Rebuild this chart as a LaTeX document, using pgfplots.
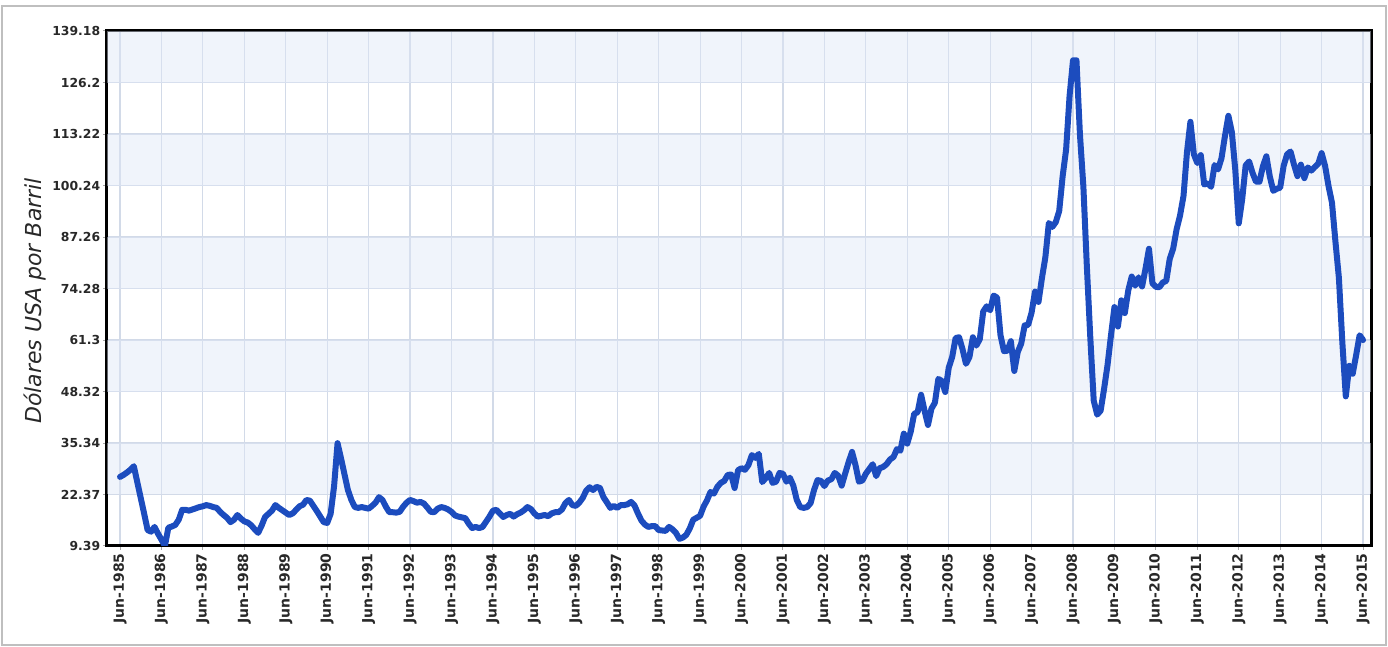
\documentclass[border=0pt]{standalone}
\usepackage{pgfplots}
\pgfplotsset{compat=1.18}
\usepackage{pgfplotstable}
\usepackage{fontspec}
\setmainfont{DejaVu Sans}
\definecolor{lineblue}{RGB}{28,76,190}
\definecolor{band}{RGB}{222,230,246}
\definecolor{gridc}{RGB}{210,218,232}
\definecolor{txt}{RGB}{40,40,40}

% Monthly crude oil price, Jun-1985 (index 0) to Jun-2015 (index 360)
\pgfplotstableread{
m p
0 26.8
1 27.3
2 27.9
3 28.6
4 29.5
5 25.5
6 21.5
7 17.5
8 13.4
9 13.0
10 14.2
11 12.5
12 11.0
13 9.39
14 14.0
15 14.3
16 14.7
17 16.0
18 18.5
19 18.5
20 18.3
21 18.6
22 18.9
23 19.2
24 19.4
25 19.7
26 19.5
27 19.2
28 19.0
29 18.0
30 17.2
31 16.5
32 15.4
33 16.0
34 17.2
35 16.3
36 15.6
37 15.3
38 14.6
39 13.6
40 12.7
41 14.5
42 16.7
43 17.5
44 18.3
45 19.7
46 19.0
47 18.4
48 17.8
49 17.2
50 17.6
51 18.5
52 19.4
53 19.8
54 21.0
55 20.8
56 19.5
57 18.2
58 16.8
59 15.4
60 15.2
61 17.5
62 24.5
63 35.3
64 31.5
65 27.5
66 23.5
67 21.0
68 19.2
69 19.0
70 19.2
71 19.0
72 18.8
73 19.5
74 20.3
75 21.7
76 21.0
77 19.3
78 17.9
79 17.9
80 17.8
81 18.0
82 19.3
83 20.3
84 21.0
85 20.7
86 20.3
87 20.5
88 20.1
89 19.1
90 18.0
91 17.9
92 18.8
93 19.2
94 19.0
95 18.6
96 18.0
97 17.1
98 16.8
99 16.6
100 16.4
101 15.0
102 13.9
103 14.2
104 13.9
105 14.2
106 15.5
107 16.8
108 18.3
109 18.5
110 17.6
111 16.7
112 17.2
113 17.5
114 16.8
115 17.4
116 17.8
117 18.4
118 19.2
119 18.7
120 17.6
121 16.8
122 17.0
123 17.2
124 16.9
125 17.6
126 17.9
127 17.9
128 18.6
129 20.2
130 21.0
131 19.7
132 19.5
133 20.3
134 21.5
135 23.3
136 24.2
137 23.5
138 24.3
139 24.0
140 21.7
141 20.4
142 19.0
143 19.5
144 19.0
145 19.7
146 19.7
147 19.9
148 20.5
149 19.6
150 17.6
151 15.8
152 14.8
153 14.2
154 14.4
155 14.4
156 13.4
157 13.3
158 13.2
159 14.2
160 13.6
161 12.7
162 11.2
163 11.5
164 12.2
165 13.8
166 16.0
167 16.5
168 17.0
169 19.3
170 20.9
171 23.0
172 22.6
173 24.3
174 25.3
175 25.8
176 27.3
177 27.4
178 24.0
179 28.5
180 29.0
181 28.6
182 29.8
183 32.3
184 31.6
185 32.6
186 25.5
187 26.5
188 27.8
189 25.3
190 25.6
191 27.8
192 27.6
193 25.6
194 26.6
195 24.6
196 21.0
197 19.2
198 19.0
199 19.2
200 20.2
201 23.5
202 26.0
203 25.8
204 24.5
205 25.9
206 26.2
207 27.8
208 27.1
209 24.6
210 27.6
211 30.5
212 33.1
213 29.8
214 25.6
215 25.9
216 27.6
217 28.8
218 30.0
219 27.0
220 29.0
221 29.3
222 30.0
223 31.2
224 31.8
225 33.8
226 33.4
227 37.7
228 35.2
229 38.2
230 42.7
231 43.1
232 47.5
233 43.5
234 39.9
235 44.0
236 45.5
237 51.5
238 51.0
239 48.2
240 54.3
241 57.0
242 61.8
243 62.0
244 59.0
245 55.3
246 57.0
247 62.0
248 59.9
249 61.5
250 68.5
251 69.8
252 68.8
253 72.5
254 72.0
255 62.5
256 58.5
257 58.6
258 61.0
259 53.5
260 58.3
261 60.4
262 65.0
263 65.1
264 68.2
265 73.5
266 70.9
267 76.9
268 82.2
269 90.8
270 89.8
271 91.0
272 93.8
273 102.6
274 109.3
275 122.8
276 131.8
277 131.8
278 113.2
279 100.0
280 80.0
281 62.0
282 46.0
283 42.5
284 43.5
285 49.0
286 55.0
287 62.5
288 69.6
289 64.7
290 71.3
291 68.1
292 73.8
293 77.3
294 75.0
295 77.1
296 74.8
297 79.3
298 84.3
299 75.6
300 74.7
301 74.6
302 75.8
303 76.2
304 81.7
305 84.3
306 89.2
307 92.7
308 97.6
309 108.6
310 116.3
311 108.1
312 105.9
313 107.9
314 100.5
315 100.8
316 99.9
317 105.4
318 104.3
319 107.1
320 112.7
321 117.8
322 113.7
323 104.1
324 90.7
325 96.8
326 105.3
327 106.3
328 103.4
329 101.2
330 101.2
331 105.1
332 107.6
333 102.5
334 98.9
335 99.4
336 99.7
337 105.2
338 108.1
339 108.8
340 105.5
341 102.6
342 105.5
343 102.1
344 104.8
345 104.0
346 104.9
347 105.7
348 108.4
349 105.2
350 100.1
351 95.9
352 86.1
353 77.0
354 60.7
355 47.1
356 54.8
357 52.8
358 57.5
359 62.5
360 61.3
}\oil

\begin{document}
\begin{tikzpicture}
\begin{axis}[
  width=632pt, height=257.5pt, scale only axis,
  xmin=-3.77, xmax=362.3, ymin=9.39, ymax=139.18,
  xtick={0,12,...,360},
  xticklabels={Jun-1985,Jun-1986,Jun-1987,Jun-1988,Jun-1989,Jun-1990,Jun-1991,Jun-1992,Jun-1993,Jun-1994,Jun-1995,Jun-1996,Jun-1997,Jun-1998,Jun-1999,Jun-2000,Jun-2001,Jun-2002,Jun-2003,Jun-2004,Jun-2005,Jun-2006,Jun-2007,Jun-2008,Jun-2009,Jun-2010,Jun-2011,Jun-2012,Jun-2013,Jun-2014,Jun-2015},
  ytick={9.39,22.37,35.34,48.32,61.3,74.28,87.26,100.24,113.22,126.2,139.18},
  yticklabels={9.39,22.37,35.34,48.32,61.3,74.28,87.26,100.24,113.22,126.2,139.18},
  grid=major,
  major grid style={gridc, line width=0.6pt},
  axis line style={black, line width=1.5pt},
  tick pos=left,
  tick align=outside,
  major tick length=2pt,
  tick style={gray!70, line width=0.5pt},
  yticklabel style={font=\fontsize{6.2}{7}\selectfont\bfseries, text=txt, inner sep=1.2pt},
  xticklabel style={font=\fontsize{7}{8}\selectfont\bfseries, text=txt, rotate=90, anchor=east, inner sep=1.5pt},
  ylabel={Dólares USA por Barril},
  ylabel style={font=\fontsize{11}{13}\selectfont\itshape, text=txt, at={(axis description cs:-0.057,0.476)}, anchor=center},
]
\addplot[draw=none, fill=band, fill opacity=0.45] coordinates {(-3.77,22.37) (362.3,22.37) (362.3,35.34) (-3.77,35.34)} -- cycle;
\addplot[draw=none, fill=band, fill opacity=0.45] coordinates {(-3.77,48.32) (362.3,48.32) (362.3,61.3) (-3.77,61.3)} -- cycle;
\addplot[draw=none, fill=band, fill opacity=0.45] coordinates {(-3.77,74.28) (362.3,74.28) (362.3,87.26) (-3.77,87.26)} -- cycle;
\addplot[draw=none, fill=band, fill opacity=0.45] coordinates {(-3.77,100.24) (362.3,100.24) (362.3,113.22) (-3.77,113.22)} -- cycle;
\addplot[draw=none, fill=band, fill opacity=0.45] coordinates {(-3.77,126.2) (362.3,126.2) (362.3,139.18) (-3.77,139.18)} -- cycle;
\addplot[lineblue, line width=3pt, line join=round, line cap=round] table[x=m, y=p] {\oil};
\end{axis}
\draw[gray!50, line width=0.8pt] (-52.5pt,-49.5pt) rectangle (639.5pt,270pt);
\useasboundingbox (-53.5pt,-50.5pt) rectangle (640.5pt,273pt);
\end{tikzpicture}
\end{document}
